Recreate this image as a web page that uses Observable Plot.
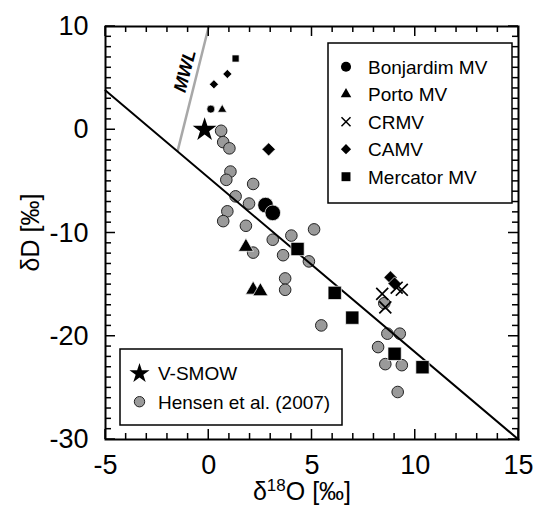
<!DOCTYPE html>
<html><head><meta charset="utf-8">
<script src="https://cdn.jsdelivr.net/npm/d3@7"></script>
<script src="https://cdn.jsdelivr.net/npm/@observablehq/plot@0.6"></script>
<style>
body{margin:0;background:#fff;}
#wrap{width:534px;height:512px;}
svg{overflow:visible;}
</style></head><body><div id="wrap"></div>
<script>
// ---- data (δ18O, δD in ‰) ----
const hensen2007 = [
  {d18O:0.6,dD:-0.1},{d18O:0.7,dD:-1.2},{d18O:1.0,dD:-1.8},{d18O:1.05,dD:-4.05},
  {d18O:0.85,dD:-4.85},{d18O:2.15,dD:-5.25},{d18O:1.3,dD:-6.45},{d18O:1.95,dD:-7.15},
  {d18O:0.9,dD:-7.9},{d18O:0.7,dD:-8.85},{d18O:1.8,dD:-9.3},{d18O:3.1,dD:-10.65},
  {d18O:4.0,dD:-10.25},{d18O:5.1,dD:-9.65},{d18O:2.15,dD:-11.9},{d18O:3.6,dD:-12.15},
  {d18O:4.85,dD:-12.75},{d18O:3.7,dD:-14.4},{d18O:3.7,dD:-15.5},{d18O:5.45,dD:-18.95},
  {d18O:8.5,dD:-16.8},{d18O:8.65,dD:-19.75},{d18O:9.25,dD:-19.75},{d18O:8.2,dD:-21.05},
  {d18O:8.55,dD:-22.7},{d18O:9.35,dD:-22.8},{d18O:9.15,dD:-25.4}
];
const vsmow = [{d18O:-0.2,dD:0}];
const bonjardim = [{d18O:2.75,dD:-7.3},{d18O:3.1,dD:-8.05}];
const bonjardimMinor = [{d18O:0.1,dD:2.0}];
const porto = [{d18O:1.8,dD:-11.35},{d18O:2.15,dD:-15.5},{d18O:2.5,dD:-15.65}];
const portoMinor = [{d18O:0.65,dD:1.95}];
const crmv = [{d18O:8.4,dD:-15.9},{d18O:9.1,dD:-15.3},{d18O:9.35,dD:-15.5},{d18O:8.55,dD:-17.2}];
const camv = [{d18O:2.9,dD:-1.9},{d18O:8.8,dD:-14.3},{d18O:9.0,dD:-14.9}];
const camvMinor = [{d18O:0.25,dD:4.4},{d18O:0.9,dD:5.4}];
const mercator = [{d18O:4.3,dD:-11.55},{d18O:6.1,dD:-15.8},{d18O:6.95,dD:-18.2},{d18O:9.0,dD:-21.7},{d18O:10.35,dD:-23.0}];
const mercatorMinor = [{d18O:1.3,dD:6.9}];
const fitLine = [{d18O:-5,dD:3.8},{d18O:15,dD:-30}];
const mwl = [{d18O:-1.5,dD:-2},{d18O:0,dD:10}];
const mwlLabel = [{d18O:-1.15,dD:5.7,text:"MWL"}];
const xTicks = [-5,0,5,10,15];
const yTicks = [-30,-20,-10,0,10];
const xMinorTicks = d3.range(-5,16).filter(v => !xTicks.includes(v));
const yMinorTicks = d3.range(-30,11).filter(v => !yTicks.includes(v));
const legendLabels = ["Bonjardim MV","Porto MV","CRMV","CAMV","Mercator MV"];
const legend2Labels = ["V-SMOW","Hensen et al. (2007)"];
const xLabel = ["δ","18","O [‰]"];
const yLabel = "δD [‰]";

// ---- layout ----
const W = 534, H = 512, mL = 105, mR = 16, mT = 26, mB = 73;
const font = "'Liberation Sans', Arial, Helvetica, sans-serif";
const GRAY = "#9a9a9a";
const mk = (s) => ({stroke: "white", strokeWidth: 0.7, fill: "black", ...s});

const chart = Plot.plot({
  width: W, height: H,
  marginLeft: mL, marginRight: mR, marginTop: mT, marginBottom: mB,
  style: {fontFamily: font, background: "white", color: "black"},
  x: {domain: [-5, 15], label: null},
  y: {domain: [-30, 10], label: null},
  marks: [
    Plot.line(mwl, {x: "d18O", y: "dD", stroke: "#a8a8a8", strokeWidth: 2.5}),
    Plot.text(mwlLabel, {x: "d18O", y: "dD", text: "text", rotate: -75.7, fontSize: 18, fontWeight: "bold", fontStyle: "italic", fill: "black"}),
    Plot.dot(hensen2007, {x: "d18O", y: "dD", r: 5.8, fill: GRAY, stroke: "#222", strokeWidth: 1}),
    Plot.line(fitLine, {x: "d18O", y: "dD", stroke: "black", strokeWidth: 2}),
    Plot.dot(bonjardim, {x: "d18O", y: "dD", r: 7.8, symbol: "circle", ...mk()}),
    Plot.dot(bonjardimMinor, {x: "d18O", y: "dD", r: 4, symbol: "circle", ...mk()}),
    Plot.dot(porto, {x: "d18O", y: "dD", r: 5.6, symbol: "triangle", ...mk()}),
    Plot.dot(portoMinor, {x: "d18O", y: "dD", r: 3.4, symbol: "triangle", ...mk()}),
    Plot.dot(camv, {x: "d18O", y: "dD", r: 6.0, symbol: "diamond2", ...mk()}),
    Plot.dot(camvMinor, {x: "d18O", y: "dD", r: 4.1, symbol: "diamond2", ...mk()}),
    Plot.dot(mercator, {x: "d18O", y: "dD", r: 7.5, symbol: "square", ...mk()}),
    Plot.dot(mercatorMinor, {x: "d18O", y: "dD", r: 4.0, symbol: "square", ...mk()}),
    Plot.dot(crmv, {x: "d18O", y: "dD", r: 5.5, symbol: "times", stroke: "black", strokeWidth: 1.7, fill: "none"}),
    Plot.dot(vsmow, {x: "d18O", y: "dD", r: 7.5, symbol: "star", fill: "black", stroke: "none"}),
    Plot.axisX({ticks: xTicks, tickSize: 0, tickPadding: 15, fontSize: 27, tickFormat: d => String(d), label: null}),
    Plot.axisY({ticks: yTicks, tickSize: 0, tickPadding: 17, fontSize: 27, tickFormat: d => String(d), label: null}),
    Plot.frame({stroke: "black", strokeWidth: 2})
  ]
});
document.getElementById("wrap").appendChild(chart);

const svg = d3.select(chart);
const sx = chart.scale("x"), sy = chart.scale("y");
const x0 = sx.apply(-5), x1 = sx.apply(15), y0 = sy.apply(-30), y1 = sy.apply(10);

// ---- inward ticks on all four sides, placed by Plot's scales ----
const gt = svg.append("g").attr("stroke", "black").attr("stroke-width", 1.5);
const addX = (vals, len) => vals.forEach(v => {
  const px = sx.apply(v);
  gt.append("line").attr("x1", px).attr("x2", px).attr("y1", y0).attr("y2", y0 - len);
  gt.append("line").attr("x1", px).attr("x2", px).attr("y1", y1).attr("y2", y1 + len);
});
const addY = (vals, len) => vals.forEach(v => {
  const py = sy.apply(v);
  gt.append("line").attr("y1", py).attr("y2", py).attr("x1", x0).attr("x2", x0 + len);
  gt.append("line").attr("y1", py).attr("y2", py).attr("x1", x1).attr("x2", x1 - len);
});
addX(xTicks, 10); addX(xMinorTicks, 6);
addY(yTicks, 10); addY(yMinorTicks, 6);

// ---- axis titles ----
const xt = svg.append("text").attr("x", 302).attr("y", 500).attr("text-anchor", "middle")
  .attr("font-family", font).attr("font-size", 25).attr("fill", "black");
xt.append("tspan").text(xLabel[0]);
xt.append("tspan").attr("font-size", 17).attr("dy", -9).text(xLabel[1]);
xt.append("tspan").attr("dy", 9).text(xLabel[2]);
svg.append("text").attr("transform", "translate(30,232.5) rotate(-90)").attr("text-anchor", "middle")
  .attr("dy", "0.35em").attr("font-family", font).attr("font-size", 25).attr("fill", "black").text(yLabel);

// ---- legend 1 ----
const g1 = svg.append("g").attr("text-anchor", "start");
g1.append("rect").attr("x", 328).attr("y", 43).attr("width", 184).attr("height", 160)
  .attr("fill", "white").attr("stroke", "black").attr("stroke-width", 1.5);
const l1sym = [
  {t: d3.symbolCircle, s: 80, fill: true},
  {t: d3.symbolTriangle, s: 48, fill: true},
  {t: d3.symbolTimes, s: 55, fill: false},
  {t: d3.symbolDiamond2, s: 66, fill: true},
  {t: d3.symbolSquare, s: 80, fill: true}
];
const rows1 = [66.7, 94.2, 121.7, 149.2, 176.7];
legendLabels.forEach((lab, i) => {
  const p = g1.append("path").attr("transform", `translate(346,${rows1[i]})`).attr("d", d3.symbol(l1sym[i].t, l1sym[i].s)());
  if (l1sym[i].fill) p.attr("fill", "black"); else p.attr("fill", "none").attr("stroke", "black").attr("stroke-width", 1.5);
  g1.append("text").attr("x", 368).attr("y", rows1[i]).attr("dy", "0.36em").attr("text-anchor", "start")
    .attr("font-family", font).attr("font-size", 19).attr("fill", "black").text(lab);
});

// ---- legend 2 ----
const g2 = svg.append("g").attr("text-anchor", "start");
g2.append("rect").attr("x", 120).attr("y", 349).attr("width", 222).attr("height", 76)
  .attr("fill", "white").attr("stroke", "black").attr("stroke-width", 1.5);
const rows2 = [373.5, 401.7];
g2.append("path").attr("transform", `translate(139.5,${rows2[0]})`).attr("d", d3.symbol(d3.symbolStar, 125)()).attr("fill", "black");
g2.append("circle").attr("cx", 139.5).attr("cy", rows2[1]).attr("r", 5.2).attr("fill", GRAY).attr("stroke", "#222").attr("stroke-width", 1);
legend2Labels.forEach((lab, i) => {
  g2.append("text").attr("x", 158).attr("y", rows2[i]).attr("dy", "0.36em").attr("text-anchor", "start")
    .attr("font-family", font).attr("font-size", 19).attr("fill", "black").text(lab);
});
</script>
</body></html>
